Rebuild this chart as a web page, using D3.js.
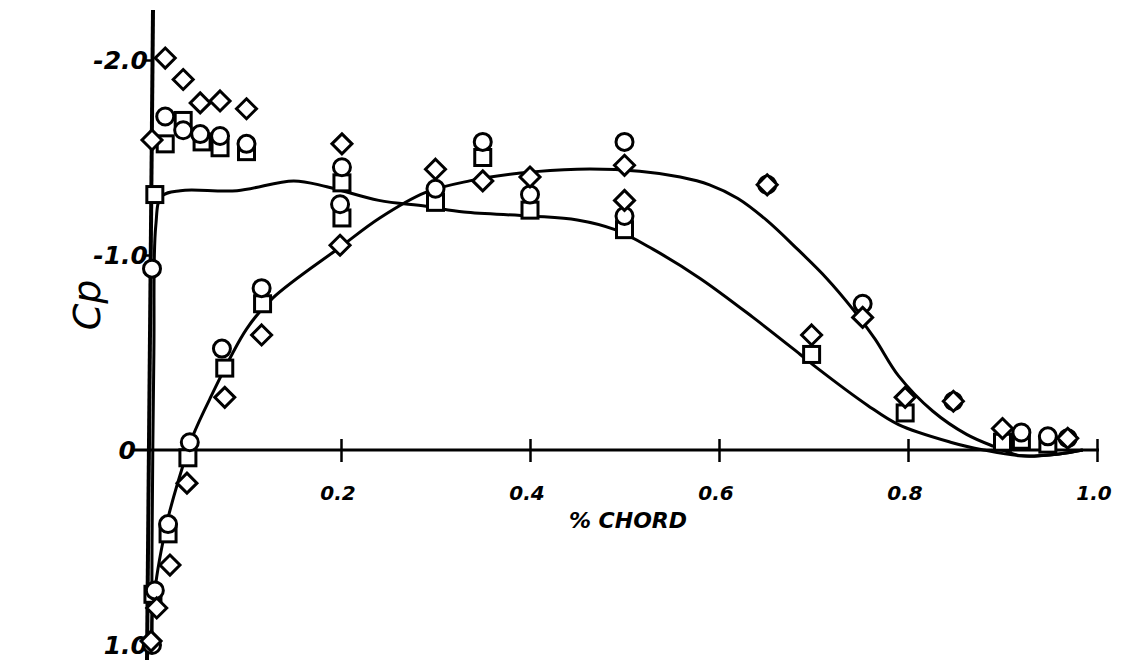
<!DOCTYPE html>
<html>
<head>
<meta charset="utf-8">
<script src="https://cdn.jsdelivr.net/npm/d3@7"></script>
<style>
  body { margin: 0; background: #fff; }
  text { font-family: "DejaVu Sans", sans-serif; font-style: italic; font-weight: bold; fill: #000; }
</style>
</head>
<body>
<svg id="chart"></svg>
<script>
const width = 1127;
const height = 660;

// tick labels
const xTicks = [0.2, 0.4, 0.6, 0.8, 1.0];
const yTickMarks = [-2, -1];
const yLabels = [[-2, "-2.0"], [-1, "-1.0"], [0, "0"], [1, "1.0"]];

// measured points [x/c, Cp]
const circles = [
    [0.0, -0.93], [0.014, -1.71], [0.033, -1.64], [0.051, -1.62], [0.072, -1.61], [0.10, -1.57],
    [0.116, -0.83], [0.074, -0.52], [0.040, -0.04], [0.017, 0.38], [0.003, 0.72], [0.0, 1.0],
    [0.201, -1.45], [0.199, -1.26], [0.30, -1.34], [0.35, -1.58], [0.40, -1.31],
    [0.50, -1.58], [0.50, -1.2], [0.651, -1.36], [0.752, -0.75], [0.848, -0.25],
    [0.92, -0.09], [0.948, -0.07], [0.969, -0.06]
];
const squares = [
    [0.003, -1.31], [0.014, -1.57], [0.033, -1.69], [0.053, -1.58], [0.072, -1.55], [0.10, -1.53],
    [0.117, -0.75], [0.077, -0.42], [0.038, 0.04], [0.017, 0.43], [0.001, 0.74],
    [0.201, -1.37], [0.201, -1.19], [0.30, -1.27], [0.35, -1.50], [0.40, -1.23], [0.50, -1.13],
    [0.698, -0.49], [0.797, -0.19], [0.90, -0.04], [0.92, -0.05], [0.948, -0.03]
];
const diamonds = [
    [0.014, -2.01], [0.033, -1.90], [0.051, -1.78], [0.072, -1.79], [0.10, -1.75], [0.0, -1.59],
    [0.116, -0.59], [0.077, -0.27], [0.037, 0.17], [0.019, 0.59], [0.005, 0.81], [-0.001, 0.98],
    [0.201, -1.57], [0.199, -1.05], [0.30, -1.44], [0.35, -1.38], [0.40, -1.40],
    [0.50, -1.46], [0.50, -1.28], [0.651, -1.36], [0.698, -0.59], [0.752, -0.68],
    [0.797, -0.27], [0.848, -0.25], [0.90, -0.11], [0.969, -0.06]
];

// faired curves [x/c, Cp]
const curveA = [
    [0.0, 1.0], [0.0, 0.5], [0.002, -0.5], [0.004, -1.15], [0.01, -1.3], [0.03, -1.33],
    [0.09, -1.33], [0.15, -1.38], [0.185, -1.35], [0.24, -1.28], [0.29, -1.25], [0.33, -1.22],
    [0.40, -1.2], [0.45, -1.18], [0.49, -1.13], [0.53, -1.03], [0.58, -0.88], [0.636, -0.68],
    [0.686, -0.49], [0.704, -0.42], [0.757, -0.23], [0.79, -0.13], [0.845, -0.04],
    [0.88, 0.0], [0.92, 0.03], [0.96, 0.02], [0.985, 0.0]
];
const curveB = [
    [0.0, 1.0], [0.0, 0.86], [0.005, 0.65], [0.012, 0.46], [0.019, 0.31], [0.038, 0.0],
    [0.043, -0.07], [0.061, -0.26], [0.10, -0.62], [0.128, -0.78], [0.199, -1.04],
    [0.241, -1.19], [0.289, -1.32], [0.336, -1.38], [0.39, -1.42], [0.45, -1.44],
    [0.516, -1.43], [0.559, -1.40], [0.59, -1.36], [0.62, -1.29], [0.65, -1.18],
    [0.683, -1.03], [0.714, -0.88], [0.742, -0.72], [0.765, -0.57], [0.79, -0.38],
    [0.826, -0.2], [0.862, -0.08], [0.89, -0.02], [0.92, 0.03], [0.96, 0.02], [0.985, 0.0]
];

const svg = d3.select('#chart')
    .attr('width', width)
    .attr('height', height);

const x = d3.scaleLinear().domain([0, 1]).range([152, 1097]);
const y = d3.scaleLinear().domain([-2, 1]).range([60, 645]);

// axes
const xAxis = svg.append('g')
    .attr('transform', `translate(0,${y(0)})`)
    .call(d3.axisBottom(x).tickValues(xTicks).tickSize(12).tickFormat(''));
xAxis.select('.domain').remove();
xAxis.selectAll('.tick line').attr('y1', -11).attr('stroke', '#000').attr('stroke-width', 2.5);

svg.append('line')
    .attr('x1', 133).attr('x2', 1099)
    .attr('y1', y(0)).attr('y2', y(0))
    .attr('stroke', '#000').attr('stroke-width', 3);

const yAxis = svg.append('g')
    .attr('transform', `translate(${x(0)},0)`)
    .call(d3.axisLeft(y).tickValues(yTickMarks).tickSize(8).tickFormat(''));
yAxis.select('.domain').remove();
yAxis.selectAll('.tick line').attr('stroke', '#000').attr('stroke-width', 2.5);

svg.append('line')
    .attr('x1', x(0) + 1).attr('x2', x(0) - 5)
    .attr('y1', 10).attr('y2', 660)
    .attr('stroke', '#000').attr('stroke-width', 4);

// tick labels
svg.selectAll('.xlab')
    .data(xTicks).join('text')
    .attr('class', 'xlab')
    .attr('x', d => x(d) - 3)
    .attr('y', y(0) + 50)
    .attr('text-anchor', 'middle')
    .attr('font-size', 20)
    .text(d => d.toFixed(1));

svg.selectAll('.ylab')
    .data(yLabels).join('text')
    .attr('class', 'ylab')
    .attr('x', d => d[0] === 0 ? 136 : 148)
    .attr('y', d => y(d[0]) + 9)
    .attr('text-anchor', 'end')
    .attr('font-size', 25)
    .text(d => d[1]);

svg.append('text')
    .attr('x', 628)
    .attr('y', 528)
    .attr('text-anchor', 'middle')
    .attr('font-size', 22)
    .text('% CHORD');

svg.append('text')
    .attr('transform', 'translate(100,305) rotate(-90)')
    .attr('text-anchor', 'middle')
    .attr('font-size', 38)
    .style('font-weight', 'normal')
    .text('Cp');

// faired curves
const line = d3.line()
    .x(d => x(d[0]))
    .y(d => y(d[1]))
    .curve(d3.curveCatmullRom.alpha(0.5));

svg.selectAll('.fair')
    .data([curveA, curveB]).join('path')
    .attr('class', 'fair')
    .attr('d', line)
    .attr('fill', 'none')
    .attr('stroke', '#000')
    .attr('stroke-width', 3);

// markers
const sw = 3;
svg.selectAll('.sq')
    .data(squares).join('rect')
    .attr('class', 'sq')
    .attr('x', d => x(d[0]) - 8)
    .attr('y', d => y(d[1]) - 8)
    .attr('width', 16).attr('height', 16)
    .attr('fill', '#fff').attr('stroke', '#000').attr('stroke-width', sw);

svg.selectAll('.ci')
    .data(circles).join('circle')
    .attr('class', 'ci')
    .attr('cx', d => x(d[0]))
    .attr('cy', d => y(d[1]))
    .attr('r', 8.5)
    .attr('fill', '#fff').attr('stroke', '#000').attr('stroke-width', sw);

svg.selectAll('.di')
    .data(diamonds).join('path')
    .attr('class', 'di')
    .attr('transform', d => `translate(${x(d[0])},${y(d[1])})`)
    .attr('d', 'M0,-10L10,0L0,10L-10,0Z')
    .attr('fill', '#fff').attr('stroke', '#000').attr('stroke-width', sw);
</script>
</body>
</html>
